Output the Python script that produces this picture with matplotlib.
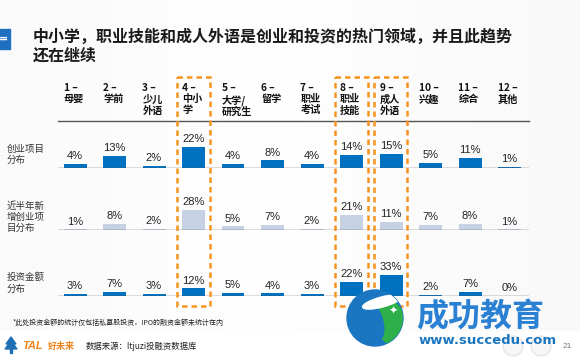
import matplotlib
matplotlib.use("Agg")
import matplotlib.pyplot as plt
from matplotlib.patches import Rectangle, Circle, Ellipse, Polygon
import numpy as np

# ---------------- data ----------------
categories = ["1 –\n母婴", "2 –\n学前", "3 –\n少儿\n外语", "4 –\n中小\n学", "5 –\n大学/\n研究生",
              "6 –\n留学", "7 –\n职业\n考试", "8 –\n职业\n技能", "9 –\n成人\n外语",
              "10 –\n兴趣", "11 –\n综合", "12 –\n其他"]
row_labels = ["创业项目\n分布", "近半年新\n增创业项\n目分布", "投资金额\n分布"]
startup_share = [4, 13, 2, 22, 4, 8, 4, 14, 15, 5, 11, 1]
new_startup_share = [1, 8, 2, 28, 5, 7, 2, 21, 11, 7, 8, 1]
investment_share = [3, 7, 3, 12, 5, 4, 3, 22, 33, 2, 7, 0]
highlight = [4, 8, 9]
title = "中小学，职业技能和成人外语是创业和投资的热门领域，并且此趋势\n还在继续"
footnote = "*此处投资金额的统计仅包括私募股投资，IPO的融资金额未统计在内"
source = "数据来源：Itjuzi投融资数据库"
page_no = "21"

CJK = ['Noto Sans CJK SC', 'DejaVu Sans']
plt.rcParams['font.family'] = CJK

W, H = 580, 362
fig = plt.figure(figsize=(W / 100, H / 100), dpi=100)

def fx(px):
    return px / W

def fy(py):
    return 1 - py / H

# background axes in pixel coordinates
bg = fig.add_axes([0, 0, 1, 1], zorder=0)
bg.set_xlim(0, W)
bg.set_ylim(H, 0)
bg.axis("off")
grad = np.linspace(0, 1, 256)
gx = 1 - 0.6 * np.abs(grad - 0.45)
img = np.tile(gx, (2, 1))
bg.imshow(img, extent=[0, W, 331, 0], cmap="Greys_r", vmin=-6.5, vmax=1.05,
          aspect="auto", zorder=0)
bg.add_patch(Rectangle((0, 331), W, H - 331, color="white", zorder=1))

# blue tab
bg.add_patch(Rectangle((0, 29), 9.5, 20, color="#1f6fc0", zorder=2))
bg.text(4, 39, "=", color="white", fontsize=8, ha="center", va="center",
        fontweight="bold", family="DejaVu Sans", zorder=3)

# title
bg.text(33, 28, title, fontsize=11.5, fontweight="bold", color="#1a1a1a",
        va="top", ha="left", linespacing=1.25, zorder=3)

# column geometry (pixels)
x0_px, step_px, bar_px = 75, 39.5, 23
ax_left, ax_right = 58, 529
n = len(categories)
xs = np.arange(1, n + 1)

# headers
for i, lab in enumerate(categories):
    left = x0_px + step_px * i - bar_px / 2
    bg.text(left, 83, lab, fontsize=7.3, fontweight="bold", color="#111111",
            va="top", ha="left", linespacing=1.15, zorder=3)
bg.plot([ax_left, ax_right], [121, 121], color="#555555", lw=1.0, zorder=3)

# row labels
row_label_y = [155, 217, 283]
for lab, yy in zip(row_labels, row_label_y):
    bg.text(7, yy, lab, fontsize=6.8, color="#333333", va="center", ha="left",
            linespacing=1.25, zorder=3)

# footnote, source, page number
bg.text(13, 323, footnote, fontsize=5.0, color="#222222", va="center", ha="left", zorder=3)
bg.text(86, 346, source, fontsize=6.0, color="#222222", va="center", ha="left", zorder=3)
bg.text(567, 346, page_no, fontsize=6.0, color="#777777", va="center", ha="center",
        family="Liberation Sans", zorder=3)

# TAL logo
bg.add_patch(Polygon([[11, 337], [6, 344], [16, 344]], closed=True, color="#1f6fb5", zorder=3))
bg.add_patch(Polygon([[11, 341], [5, 349], [17, 349]], closed=True, color="#1f6fb5", zorder=3))
bg.add_patch(Rectangle((10, 348), 2, 5, color="#1f6fb5", zorder=3))
bg.text(22, 346, "TAL", fontsize=8, fontweight="bold", style="italic", color="#f0841e",
        va="center", ha="left", family="Liberation Sans", zorder=3)
bg.text(48, 346, "好未来", fontsize=6.5, fontweight="bold", color="#f0841e",
        va="center", ha="left", zorder=3)

# bar rows
rows = [
    (startup_share, 168, 0.95, "#0070c0"),
    (new_startup_share, 230, 0.72, "#c6d2e3"),
    (investment_share, 296, 0.64, "#0070c0"),
]
xlim = (1 - (x0_px - ax_left) / step_px, 1 + (ax_right - x0_px) / step_px)
ax_h = 40
for vals, base_px, scale, col in rows:
    ax = fig.add_axes([fx(ax_left), fy(base_px), fx(ax_right - ax_left), ax_h / H], zorder=1)
    ax.patch.set_alpha(0)
    ax.set_xlim(*xlim)
    ax.set_ylim(0, ax_h / scale)
    ax.bar(xs, vals, width=bar_px / step_px, color=col, zorder=2)
    ax.axhline(0, color="#555555", lw=1.0, zorder=3)
    for x, v in zip(xs, vals):
        ax.annotate(f"{v}%", (x, v), xytext=(0, 2), textcoords="offset points",
                    ha="center", va="bottom", fontsize=8, color="#222222",
                    family="Liberation Sans", annotation_clip=False)
    ax.axis("off")

# top overlay: highlight boxes + watermark logo
top = fig.add_axes([0, 0, 1, 1], zorder=3)
top.set_xlim(0, W)
top.set_ylim(H, 0)
top.axis("off")
top.patch.set_alpha(0)
box_w = 33
for c in highlight:
    cx = x0_px + step_px * (c - 1)
    top.add_patch(Rectangle((cx - box_w / 2 - 0.5, 77), box_w, 229, fill=False,
                            edgecolor="#f7941d", lw=1.8, linestyle=(0, (2.2, 1.6))))

# 成功教育 watermark logo
disc = Circle((375, 318), 28, color="#1b76c2", zorder=4)
top.add_patch(disc)
for p in [Ellipse((390, 322), 32, 50, angle=-25, color="#2db04a", zorder=5),
          Ellipse((368, 318), 26, 50, angle=-25, color="#1b76c2", zorder=6),
          Ellipse((382, 302), 40, 10, angle=-15, color="white", zorder=7)]:
    top.add_patch(p)
    p.set_clip_path(disc)
top.text(393, 311, "✦", fontsize=8, color="white", ha="center", va="center",
         family="DejaVu Sans", zorder=8)
top.text(416, 317, "成功教育", fontsize=23, fontweight="bold", color="#2a80d2",
         va="center", ha="left", zorder=8)
top.text(419, 340, "www.succedu.com", fontsize=9.5, fontweight="bold", color="#1b76c2",
         va="center", ha="left", family="DejaVu Sans", zorder=8)
for cxx in (513, 541):
    top.add_patch(Circle((cxx, 346), 10, facecolor="#f6f6f6", edgecolor="#e2e2e2",
                         lw=0.8, zorder=4))

fig.savefig("out.png", dpi=100)
